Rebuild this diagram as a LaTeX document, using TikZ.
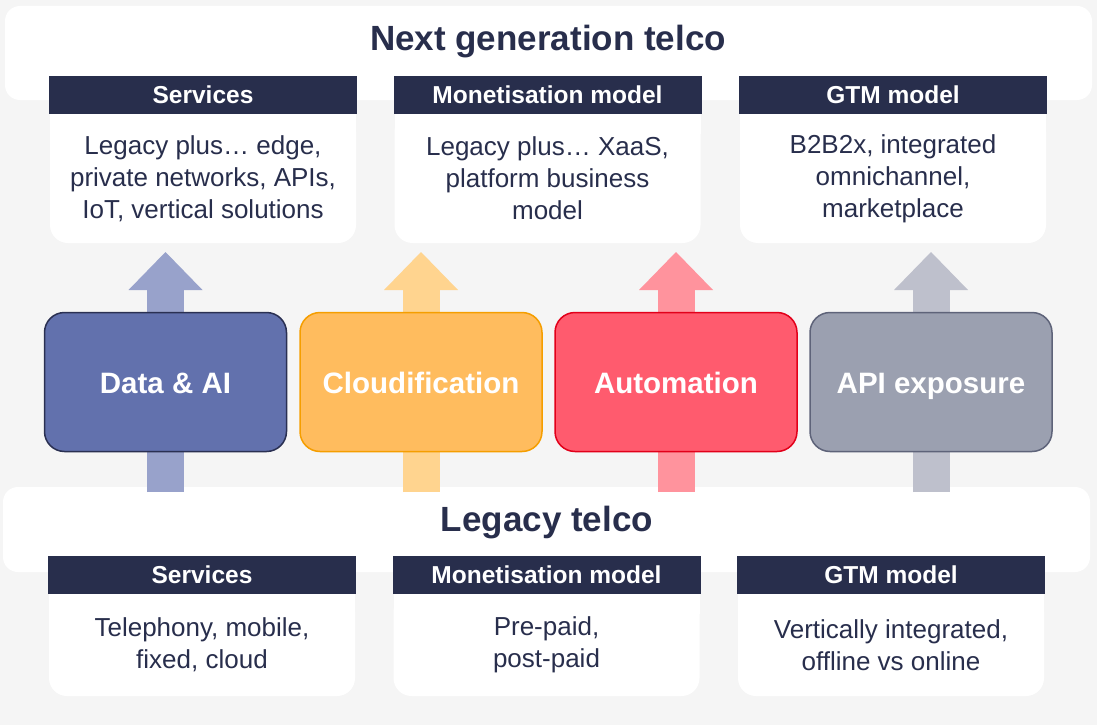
\documentclass[tikz,border=0pt]{standalone}
\usepackage{fontspec}
\setmainfont{Liberation Sans}
\usetikzlibrary{positioning,arrows.meta}
\definecolor{PageGray}{HTML}{F5F5F5}
\definecolor{Navy}{HTML}{282E4C}
\definecolor{DaiFill}{HTML}{6271AD}
\definecolor{DaiLine}{HTML}{2A3052}
\definecolor{DaiArrow}{HTML}{98A2CB}
\definecolor{CloudFill}{HTML}{FFBC5E}
\definecolor{CloudLine}{HTML}{F59E00}
\definecolor{CloudArrow}{HTML}{FFD48F}
\definecolor{AutoFill}{HTML}{FF5B6E}
\definecolor{AutoLine}{HTML}{E2001A}
\definecolor{AutoArrow}{HTML}{FF939D}
\definecolor{ApiFill}{HTML}{9BA0B0}
\definecolor{ApiLine}{HTML}{5E6379}
\definecolor{ApiArrow}{HTML}{BEC0CC}

\begin{document}
\begin{tikzpicture}[x=1pt,y=-1pt,
    band/.style={fill=white, rounded corners=15pt, minimum width=1087pt, outer sep=0pt},
    bandtitle/.style={font=\fontsize{35}{40}\selectfont\bfseries, text=Navy},
    card/.style={fill=white, rounded corners=18pt, minimum width=306pt, inner sep=0pt,
      outer sep=0pt, align=center, text=Navy, font=\fontsize{26}{32}\selectfont},
    cardhead/.style={fill=Navy, text=white, minimum width=308pt, minimum height=38pt,
      inner sep=0pt, outer sep=0pt, font=\fontsize{24.5}{28}\selectfont\bfseries},
    tech/.style={rounded corners=20pt, line width=1.5pt, minimum width=242pt,
      minimum height=139pt, outer sep=0pt, text=white, text height=23pt, text depth=0pt,
      font=\fontsize{29.5}{34}\selectfont\bfseries},
    bigarrow/.style={line width=37pt, -{Triangle[length=38pt,width=74pt,line width=0pt]}},
  ]

  % page
  \fill[PageGray] (0,0) rectangle (1097,725);

  % bands
  \node[band, minimum height=94pt] (next-band) at (548.5,53) {};
  \node[bandtitle] (next-title) at (548,42) {Next generation telco};
  \node[band, minimum height=85pt] (old-band) at (546.5,529.5) {};
  \node[bandtitle] (old-title) at (547,523) {Legacy telco};

  % enablers
  \coordinate (dai-c) at (165.5,382);
  \coordinate (cloud-c) at (421,382);
  \coordinate (auto-c) at (676,382);
  \coordinate (api-c) at (931,382);

  \draw[bigarrow, DaiArrow] ([yshift=-110pt]dai-c) -- ([yshift=130pt]dai-c);
  \draw[bigarrow, CloudArrow] ([yshift=-110pt]cloud-c) -- ([yshift=130pt]cloud-c);
  \draw[bigarrow, AutoArrow] ([yshift=-110pt]auto-c) -- ([yshift=130pt]auto-c);
  \draw[bigarrow, ApiArrow] ([yshift=-110pt]api-c) -- ([yshift=130pt]api-c);

  \node[tech, fill=DaiFill, draw=DaiLine] (dai) at (dai-c) {Data \& AI};
  \node[tech, fill=CloudFill, draw=CloudLine] (cloud) at (cloud-c) {Cloudification};
  \node[tech, fill=AutoFill, draw=AutoLine] (auto) at (auto-c) {Automation};
  \node[tech, fill=ApiFill, draw=ApiLine] (api) at (api-c) {API exposure};

  % next generation cards
  \node[card, minimum height=129pt] (svc-new) at (203,178.5)
    {Legacy plus… edge,\\private networks, APIs,\\IoT, vertical solutions};
  \fill[white] (svc-new.north west) rectangle ([yshift=-20pt]svc-new.north east);
  \node[cardhead, above=0pt of svc-new] (svc-new-head) {Services};

  \node[card, minimum height=129pt] (mon-new) at (547.5,178.5)
    {Legacy plus… XaaS,\\platform business\\model};
  \fill[white] (mon-new.north west) rectangle ([yshift=-20pt]mon-new.north east);
  \node[cardhead, above=0pt of mon-new] (mon-new-head) {Monetisation model};

  \node[card, minimum height=129pt] (gtm-new) at (893,178.5)
    {B2B2x, integrated\\omnichannel,\\marketplace};
  \fill[white] (gtm-new.north west) rectangle ([yshift=-20pt]gtm-new.north east);
  \node[cardhead, above=0pt of gtm-new] (gtm-new-head) {GTM model};

  % legacy cards
  \node[card, minimum height=102pt] (svc-old) at (202,645)
    {Telephony, mobile,\\fixed, cloud};
  \fill[white] (svc-old.north west) rectangle ([yshift=-20pt]svc-old.north east);
  \node[cardhead, above=0pt of svc-old] (svc-old-head) {Services};

  \node[card, minimum height=102pt] (mon-old) at (546.5,645)
    {Pre-paid,\\post-paid};
  \fill[white] (mon-old.north west) rectangle ([yshift=-20pt]mon-old.north east);
  \node[cardhead, above=0pt of mon-old] (mon-old-head) {Monetisation model};

  \node[card, minimum height=102pt] (gtm-old) at (891,645)
    {Vertically integrated,\\offline vs online};
  \fill[white] (gtm-old.north west) rectangle ([yshift=-20pt]gtm-old.north east);
  \node[cardhead, above=0pt of gtm-old] (gtm-old-head) {GTM model};

\end{tikzpicture}
\end{document}
